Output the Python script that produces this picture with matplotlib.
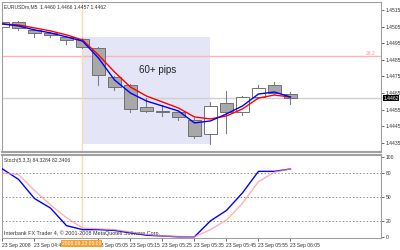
import matplotlib.pyplot as plt
from matplotlib.patches import Rectangle

plt.rcParams['font.family'] = ['Liberation Sans', 'DejaVu Sans']

# EURUSDm M5 candles, 23 Sep 2008
times = ['04:35', '04:40', '04:45', '04:50', '04:55', '05:00', '05:05', '05:10',
         '05:15', '05:20', '05:25', '05:30', '05:35', '05:40', '05:45', '05:50',
         '05:55', '06:00', '06:05']
opens = [1.45048, 1.45078, 1.45030, 1.45012, 1.44988, 1.44976, 1.44921, 1.44747,
         1.44699, 1.44566, 1.44542, 1.44536, 1.44488, 1.44404, 1.44590, 1.44536,
         1.44626, 1.44699, 1.44644]
highs = [1.45090, 1.45084, 1.45036, 1.45018, 1.44994, 1.44982, 1.44927, 1.44753,
         1.44705, 1.44620, 1.44578, 1.44542, 1.44500, 1.44596, 1.44662, 1.44632,
         1.44699, 1.44717, 1.44656]
lows = [1.45036, 1.45030, 1.44988, 1.44988, 1.44945, 1.44921, 1.44699, 1.44668,
        1.44536, 1.44536, 1.44512, 1.44488, 1.44380, 1.44343, 1.44410, 1.44518,
        1.44620, 1.44644, 1.44584]
closes = [1.45078, 1.45042, 1.45012, 1.45000, 1.44970, 1.44927, 1.44759, 1.44686,
          1.44554, 1.44542, 1.44536, 1.44506, 1.44392, 1.44572, 1.44536, 1.44626,
          1.44680, 1.44650, 1.44620]
ma_slow = [1.45066, 1.45060, 1.45042, 1.45024, 1.45000, 1.44970, 1.44879, 1.44777,
           1.44686, 1.44632, 1.44596, 1.44560, 1.44506, 1.44494, 1.44512, 1.44554,
           1.44620, 1.44638, 1.44626]
ma_fast = [1.45066, 1.45054, 1.45030, 1.45012, 1.44988, 1.44963, 1.44861, 1.44729,
           1.44650, 1.44602, 1.44572, 1.44542, 1.44470, 1.44482, 1.44524, 1.44572,
           1.44644, 1.44656, 1.44626]
stoch_main = [85, 72, 48, 36, 14, 9, 9, 8, 5, 2, 1, 0, 0, 20, 33, 55, 82, 82, 85]
stoch_signal = [80, 78, 58, 40, 24, 11, 10, 9, 6, 3, 1, 0.5, 0, 9, 21, 42, 69, 81, 85]

price_ticks = [1.4515, 1.4505, 1.4495, 1.4485, 1.4475, 1.4465, 1.4455, 1.4445, 1.4435]
stoch_levels = [20, 50, 80]
hline_price = 1.4487
last_price = 1.4462

fs = 3.6
fig = plt.figure(figsize=(4, 2.5), dpi=100)
ax = fig.add_axes([0.005, 0.392, 0.9475, 0.6])
ax2 = fig.add_axes([0.005, 0.048, 0.9475, 0.332])

n = len(times)
xmin, xmax = -0.03, 23.66

# shaded zone and reference lines
ax.add_patch(Rectangle((4.95, 1.44343), 8.0, 1.44988 - 1.44343,
                       facecolor='#e4e6f8', edgecolor='none', zorder=0))
ax.axhline(hline_price, color='#ffb4b4', lw=1, zorder=1)
ax.axhline(last_price, color='#d0d0d0', lw=1, zorder=1)
ax.axvline(4.95, color='#ffd8b0', lw=1, zorder=1)
ax2.axvline(4.95, color='#ffd8b0', lw=1, zorder=1)

# candles
for i in range(n):
    o, h, l, c = opens[i], highs[i], lows[i], closes[i]
    ax.plot([i, i], [l, h], color='#808080', lw=0.8, zorder=2)
    up = c >= o
    ax.add_patch(Rectangle((i - 0.38, min(o, c)), 0.76, max(abs(c - o), 0.00003),
                           facecolor='white' if up else '#a8a8a8',
                           edgecolor='#707070', lw=0.7, zorder=3))

xs = list(range(n))
ax.plot(xs, ma_slow, color='#ff0000', lw=1, zorder=4)
ax.plot(xs, ma_fast, color='#0000ff', lw=1, zorder=5)

ax.text(9.7, 1.44790, '60+ pips', fontsize=7, color='#222222', ha='center', va='center')
ax.text(0.005, 0.985, 'EURUSDm,M5  1.4460 1.4466 1.4457 1.4462', transform=ax.transAxes,
        fontsize=fs, color='#333333', ha='left', va='top')
ax.text(0.985, hline_price + 0.00004, '28.2', transform=ax.get_yaxis_transform(),
        fontsize=fs, color='#ff9090', ha='right', va='bottom')

ax.set_xlim(xmin, xmax)
ax.set_ylim(1.44295, 1.45198)
ax.yaxis.tick_right()
ax.set_yticks(price_ticks)
ax.set_yticklabels([f'{p:.4f}' for p in price_ticks])
ax.tick_params(axis='y', labelsize=fs, length=2, width=0.6, pad=1.5,
               colors='#555555', labelcolor='#333333')
ax.set_xticks([])
ax.text(1.006, last_price, f'{last_price:.4f}', transform=ax.get_yaxis_transform(),
        fontsize=fs, color='white', ha='left', va='center', zorder=10,
        bbox=dict(boxstyle='square,pad=0.15', facecolor='black', edgecolor='none'))

# stochastic panel
for lev in stoch_levels:
    ax2.axhline(lev, color='#909090', lw=0.7, ls=(0, (1.5, 2)), zorder=1)
ax2.plot(xs, stoch_main, color='#0000ff', lw=1, zorder=3)
ax2.plot(xs, stoch_signal, color='#ff9090', lw=1, alpha=0.7, zorder=4)
ax2.text(0.005, 0.96, 'Stoch(5,3,3) 84.3284 82.3406', transform=ax2.transAxes,
         fontsize=fs, color='#333333', ha='left', va='top')
ax2.text(0.005, 0.02, 'Interbank FX Trader 4, \u00a9 2001-2008 MetaQuotes Software Corp.',
         transform=ax2.transAxes, fontsize=fs + 0.3, color='#333333', ha='left', va='bottom')

ax2.set_xlim(xmin, xmax)
ax2.set_ylim(-1.5, 102.5)
ax2.yaxis.tick_right()
ax2.set_yticks([0, 20, 50, 80, 100])
ax2.tick_params(axis='y', labelsize=fs, length=2, width=0.6, pad=1.5,
                colors='#555555', labelcolor='#333333')

tick_idx = [0] + list(range(2, n, 2))
tick_idx.remove(4)
tick_labels = ['23 Sep 2008' if i == 0 else '23 Sep ' + times[i] for i in tick_idx]
ax2.set_xticks(tick_idx)
ax2.set_xticklabels(tick_labels, ha='left')
ax2.tick_params(axis='x', labelsize=fs, length=2, width=0.6, pad=1.5,
                colors='#555555', labelcolor='#333333')
ax2.text(4.95, -0.035, '2008.09.23 ' + times[5], transform=ax2.get_xaxis_transform(),
         fontsize=fs, color='white', ha='center', va='top', zorder=10,
         bbox=dict(boxstyle='square,pad=0.2', facecolor='#f5a030', edgecolor='none'))

for a in (ax, ax2):
    for s in a.spines.values():
        s.set_color('#a0a0a0')
        s.set_linewidth(0.8)
ax.spines['bottom'].set_linewidth(1.5)
ax2.spines['top'].set_linewidth(1.5)

fig.savefig('out.png', dpi=100)
